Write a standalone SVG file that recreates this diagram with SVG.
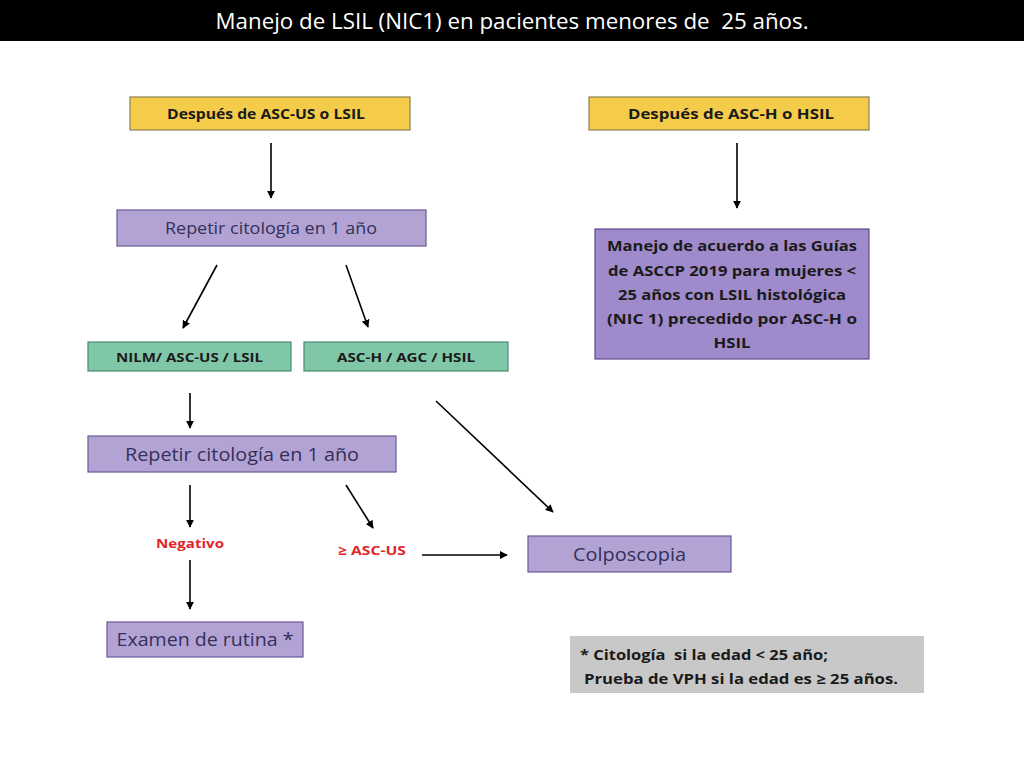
<svg xmlns="http://www.w3.org/2000/svg" width="1024" height="768" viewBox="0 0 1024 768">
<defs>
<style>
.t{font-family:"Open Sans","Liberation Sans",sans-serif;}
.b{font-weight:bold;fill:#1a1a1a;}
.yel{fill:#F4CC4A;stroke:#8C7D55;stroke-width:1.2;}
.pur{fill:#B2A3D4;stroke:#6A5A9A;stroke-width:1.2;}
.pur2{fill:#9F8BCB;stroke:#5E4C8E;stroke-width:1.2;}
.grn{fill:#80C7A8;stroke:#4A8A72;stroke-width:1.2;}
.pt{fill:#33305A;}
.red{fill:#E0252B;font-weight:bold;}
.ln{stroke:#000;stroke-width:1.6;fill:none;marker-end:url(#ah);}
</style>
<marker id="ah" viewBox="0 0 10 10" refX="9" refY="5" markerWidth="5" markerHeight="5" orient="auto" markerUnits="strokeWidth">
<path d="M0,0 L10,5 L0,10 z" fill="#000"/>
</marker>
</defs>
<rect x="0" y="0" width="1024" height="768" fill="#fff"/>
<rect x="0" y="0" width="1024" height="41" fill="#000"/>
<text class="t" x="512" y="29" font-size="22" fill="#fff" text-anchor="middle" textLength="593" lengthAdjust="spacingAndGlyphs" xml:space="preserve">Manejo de LSIL (NIC1) en pacientes menores de  25 años.</text>

<g id="n1"><rect class="yel" x="130" y="97" width="280" height="33"/>
<text class="t b" x="266" y="119" font-size="15" text-anchor="middle" textLength="198" lengthAdjust="spacingAndGlyphs">Después de ASC-US o LSIL</text></g>
<g id="n2"><rect class="pur" x="117" y="210" width="309" height="36"/>
<text class="t pt" x="271" y="234" font-size="16" text-anchor="middle" textLength="212" lengthAdjust="spacingAndGlyphs">Repetir citología en 1 año</text></g>
<g id="n3"><rect class="grn" x="88" y="342" width="203" height="29"/>
<text class="t b" x="189.5" y="362" font-size="13" text-anchor="middle" textLength="147" lengthAdjust="spacingAndGlyphs">NILM/ ASC-US / LSIL</text></g>
<g id="n4"><rect class="grn" x="304" y="342" width="204" height="29"/>
<text class="t b" x="406" y="362" font-size="13" text-anchor="middle" textLength="138" lengthAdjust="spacingAndGlyphs">ASC-H / AGC / HSIL</text></g>
<g id="n5"><rect class="pur" x="88" y="436" width="308" height="36"/>
<text class="t pt" x="242" y="461" font-size="19" text-anchor="middle" textLength="234" lengthAdjust="spacingAndGlyphs">Repetir citología en 1 año</text></g>
<g id="n6"><text class="t red" x="190" y="548" font-size="13" text-anchor="middle" textLength="68" lengthAdjust="spacingAndGlyphs">Negativo</text></g>
<g id="n7"><text class="t red" x="372" y="555" font-size="13" text-anchor="middle" textLength="68" lengthAdjust="spacingAndGlyphs">≥ ASC-US</text></g>
<g id="n8"><rect class="pur" x="528" y="536" width="203" height="36"/>
<text class="t pt" x="629.5" y="561" font-size="19" text-anchor="middle" textLength="113" lengthAdjust="spacingAndGlyphs">Colposcopia</text></g>
<g id="n9"><rect class="pur" x="107" y="622" width="196" height="35"/>
<text class="t pt" x="205" y="646" font-size="19" text-anchor="middle" textLength="177" lengthAdjust="spacingAndGlyphs">Examen de rutina *</text></g>
<g id="n10"><rect class="yel" x="589" y="97" width="280" height="33"/>
<text class="t b" x="731" y="119" font-size="15" text-anchor="middle" textLength="206" lengthAdjust="spacingAndGlyphs">Después de ASC-H o HSIL</text></g>
<g id="n11"><rect class="pur2" x="595" y="229" width="274" height="130"/>
<g class="t b" font-size="15" text-anchor="middle">
<text x="732" y="251" textLength="250" lengthAdjust="spacingAndGlyphs">Manejo de acuerdo a las Guías</text>
<text x="732" y="276" textLength="248" lengthAdjust="spacingAndGlyphs">de ASCCP 2019 para mujeres &lt;</text>
<text x="732" y="300" textLength="228" lengthAdjust="spacingAndGlyphs">25 años con LSIL histológica</text>
<text x="732" y="324" textLength="250" lengthAdjust="spacingAndGlyphs">(NIC 1) precedido por ASC-H o</text>
<text x="732" y="348" textLength="37" lengthAdjust="spacingAndGlyphs">HSIL</text>
</g></g>
<g id="n12"><rect x="570" y="636" width="354" height="57" fill="#C8C8C8"/>
<g class="t b" font-size="14">
<text x="580" y="660" textLength="248" lengthAdjust="spacingAndGlyphs" xml:space="preserve">* Citología  si la edad &lt; 25 año;</text>
<text x="584" y="684" textLength="314" lengthAdjust="spacingAndGlyphs">Prueba de VPH si la edad es ≥ 25 años.</text>
</g></g>

<g id="connectors">
<line class="ln" x1="271" y1="143" x2="271" y2="198"/>
<line class="ln" x1="217" y1="265" x2="183" y2="328"/>
<line class="ln" x1="346" y1="265" x2="368" y2="327"/>
<line class="ln" x1="190" y1="393" x2="190" y2="428"/>
<line class="ln" x1="436" y1="401" x2="553" y2="512"/>
<line class="ln" x1="190" y1="485" x2="190" y2="527"/>
<line class="ln" x1="346" y1="485" x2="373" y2="528"/>
<line class="ln" x1="422" y1="555" x2="507" y2="555"/>
<line class="ln" x1="190" y1="560" x2="190" y2="609"/>
<line class="ln" x1="737" y1="143" x2="737" y2="208"/>
</g>
</svg>
